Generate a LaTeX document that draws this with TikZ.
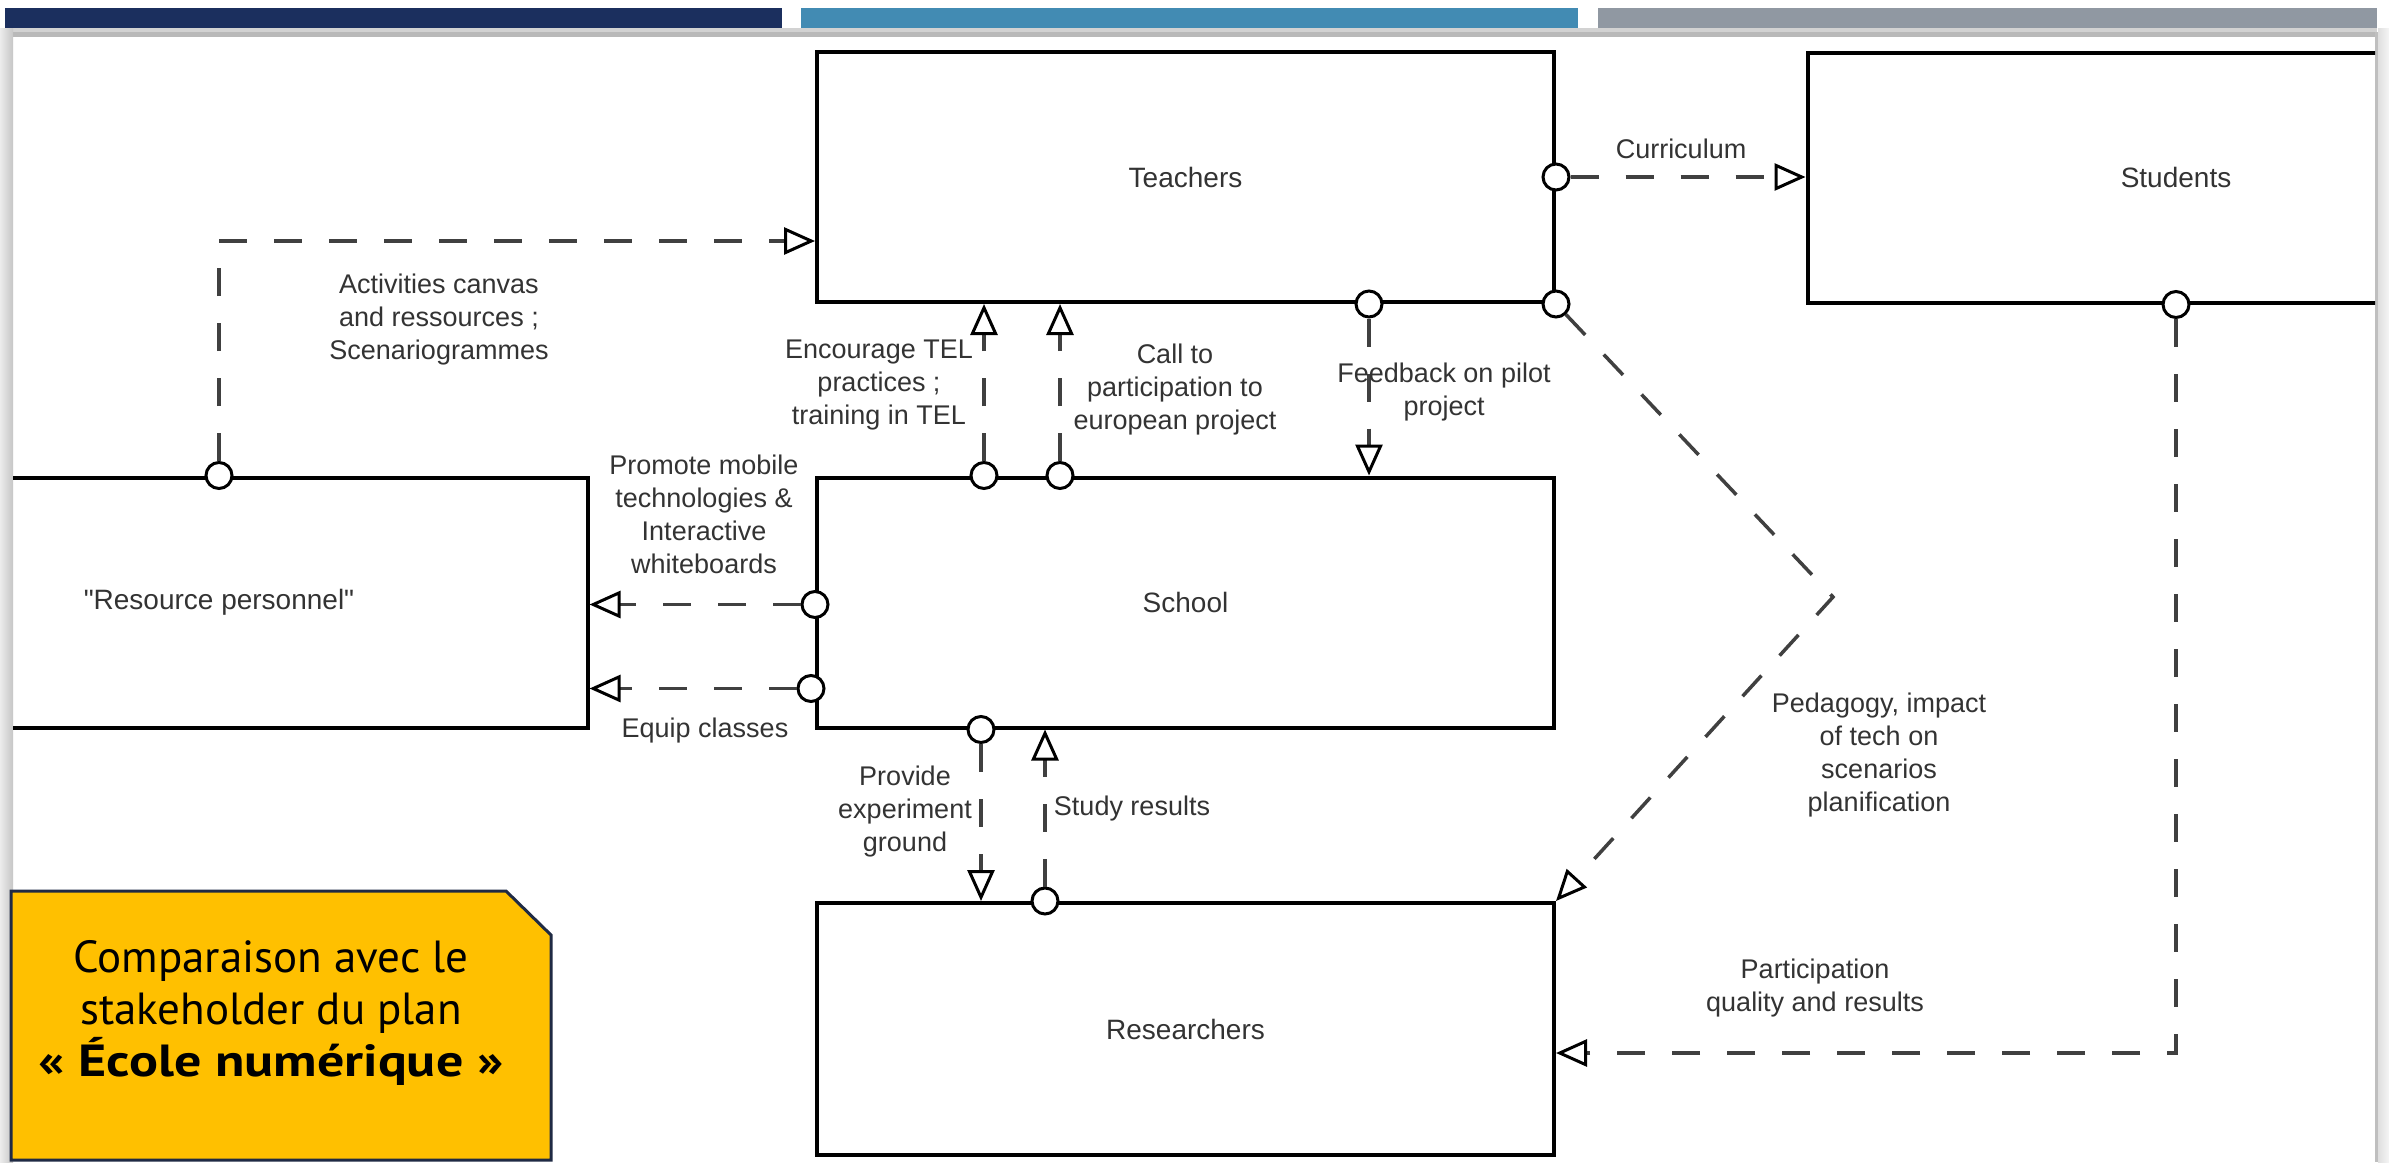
\documentclass[tikz,border=0pt]{standalone}
\usepackage{fontspec}
\setmainfont{Liberation Sans}[Ligatures=TeXOff]
\newfontfamily\gillfont{PT Sans}
\usetikzlibrary{arrows.meta,calc}
\definecolor{barA}{HTML}{1B2F5E}
\definecolor{barB}{HTML}{428BB3}
\definecolor{barC}{HTML}{9098A2}
\definecolor{dashc}{HTML}{404040}
\definecolor{lbl}{HTML}{333333}
\definecolor{callfill}{HTML}{FFC000}
\definecolor{callline}{HTML}{1F2A44}
\begin{document}
\begin{tikzpicture}[x=1pt,y=-1pt,
  box/.style={draw=black, line width=4pt, inner sep=0pt, minimum width=737pt, minimum height=250pt,
    font=\fontsize{28}{33}\selectfont, text=lbl},
  dot/.style={circle, draw=black, fill=white, line width=3pt, minimum size=26pt, inner sep=0pt},
  conn/.style={draw=dashc, line width=3.5pt, dash pattern=on 28pt off 27pt,
    -{Triangle[open, color=black, line width=3pt, length=31pt, width=27pt]}},
  lab/.style={align=center, text=lbl, font=\fontsize{27}{33}\selectfont, inner sep=0pt}]
\useasboundingbox (0,0) rectangle (2389,1162);
\fill[white] (0,0) rectangle (2389,1162);
% top bars
\fill[barA] (5,8) rectangle (782,28);
\fill[barB] (801,8) rectangle (1578,28);
\fill[barC] (1598,8) rectangle (2377,28);
% panel frame
\fill[gray!35] (5,28) rectangle (2377,32);
\fill[gray!55] (5,32) rectangle (2377,37);
\shade[left color=gray!15, right color=gray!45] (0,28) rectangle (13,1162);
\fill[gray!50] (2375,32) rectangle (2378,1162);
\shade[left color=gray!25, right color=gray!8] (2378,28) rectangle (2389,1162);
\begin{scope}
\clip (13,37) rectangle (2375,1162);
% boxes
\node[box] (teachers) at (1185.5,177) {Teachers};
\node[box] (students) at (2176,177.5) {Students};
\node[box] (resource) at (219,602.5) {"Resource personnel"};
\node[box] (school) at (1185.5,602.5) {School};
\node[box, minimum height=252pt] (researchers) at (1185.5,1029) {Researchers};
% start markers
\node[dot] (c1) at (teachers.east) {};
\node[dot] (c2) at (resource.north) {};
\node[dot] (c3) at ($(school.north west)+(169,0)$) {};
\node[dot] (c4) at ($(school.north west)+(245,0)$) {};
\node[dot] (c5) at ($(teachers.south west)+(554,0)$) {};
\node[dot] (c6) at (teachers.south east) {};
\node[dot] (c7) at ($(school.west)+(0,2)$) {};
\node[dot] (c8) at ($(school.west)+(-4,86)$) {};
\node[dot] (c9) at ($(school.south west)+(166,0)$) {};
\node[dot] (c10) at ($(researchers.north west)+(230,0)$) {};
\node[dot] (c11) at (students.south) {};
\coordinate (bend) at (1833,597);
% connectors
\draw[conn] (c1) -- (c1 -| students.west);
\draw[conn] (c2) |- ($(teachers.west)+(0,64)$);
\draw[conn] (c3) -- (c3 |- teachers.south);
\draw[conn] (c4) -- (c4 |- teachers.south);
\draw[conn] (c5) -- (c5 |- school.north);
\draw[conn] (c6) -- (bend) -- (researchers.north east);
\draw[conn] (c7) -- (c7 -| resource.east);
\draw[conn] (c8) -- (c8 -| resource.east);
\draw[conn] (c9) -- (c9 |- researchers.north);
\draw[conn] (c10) -- (c10 |- school.south);
\draw[conn] (c11) |- ($(researchers.east)+(0,24)$);
% labels
\node[lab] (l1) at (1681,149) {Curriculum};
\node[lab] (l2) at (439,320) {Activities canvas\\and ressources ;\\Scenariogrammes};
\node[lab] (l3) at (879,385) {Encourage TEL\\practices ;\\training in TEL};
\node[lab] (l4) at (1175,390) {Call to\\participation to\\european project};
\node[lab] (l5) at (1444,392) {Feedback on pilot\\project};
\node[lab] (l6) at (1879,755) {Pedagogy, impact\\of tech on\\scenarios\\planification};
\node[lab] (l7) at (704,514) {Promote mobile\\technologies \&\\Interactive\\whiteboards};
\node[lab] (l8) at (705,731) {Equip classes};
\node[lab] (l9) at (905,812) {Provide\\experiment\\ground};
\node[lab] (l10) at (1132,809) {Study results};
\node[lab] (l11) at (1815,988) {Participation\\quality and results};
\end{scope}
% callout
\draw[fill=callfill, draw=callline, line width=3pt] (11,891) -- (506,891) -- (551,935) -- (551,1160) -- (11,1160) -- cycle;
\node[align=center, inner sep=0pt, font=\gillfont\fontsize{45}{52}\selectfont] (note) at (271,1013)
  {Comparaison avec le\\stakeholder du plan\\\scalebox{1.2}[1]{\textbf{« École numérique »}}};
\end{tikzpicture}
\end{document}
